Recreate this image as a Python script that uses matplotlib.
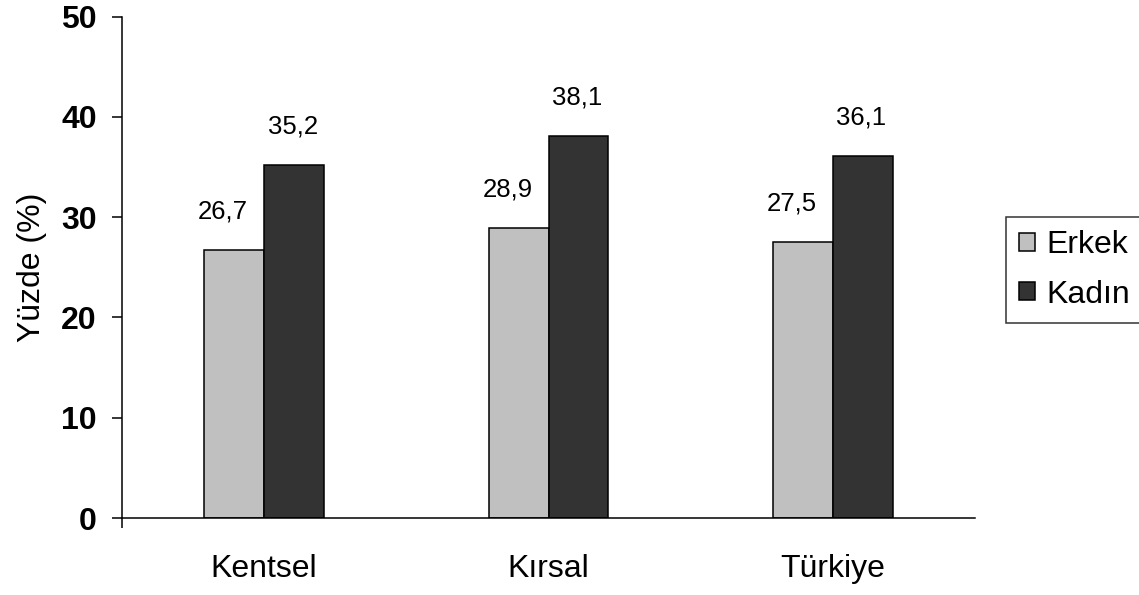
import matplotlib as mpl
import matplotlib.pyplot as plt
import numpy as np

mpl.rcParams["font.family"] = ["Liberation Sans", "DejaVu Sans"]

# data
categories = ["Kentsel", "Kırsal", "Türkiye"]
series_names = ["Erkek", "Kadın"]
erkek = [26.7, 28.9, 27.5]
kadin = [35.2, 38.1, 36.1]
y_ticks = [0, 10, 20, 30, 40, 50]

colors = ["#C0C0C0", "#333333"]

W, H = 1139, 595
fig = plt.figure(figsize=(W / 100, H / 100), dpi=100)
ax = fig.add_axes([122 / W, (H - 518) / H, (975 - 122) / W, (518 - 16.5) / H])

x = np.arange(len(categories)) + 0.5
bw = 0.211

bars_e = ax.bar(x - bw / 2, erkek, bw, color=colors[0], edgecolor="black",
                linewidth=1.1, label=series_names[0], zorder=2)
bars_k = ax.bar(x + bw / 2, kadin, bw, color=colors[1], edgecolor="black",
                linewidth=1.1, label=series_names[1], zorder=2)

# value labels, comma decimal like the original
for bars, dx in [(bars_e, -8), (bars_k, -1)]:
    for b in bars:
        v = b.get_height()
        ax.annotate(f"{v:.1f}".replace(".", ","),
                    (b.get_x() + b.get_width() / 2, v),
                    xytext=(dx, 19), textcoords="offset points",
                    ha="center", va="bottom", fontsize=18.5)

ax.set_xlim(0, len(categories))
ax.set_ylim(0, 50)

ax.set_yticks(y_ticks)
ax.set_yticklabels([str(t) for t in y_ticks], fontsize=23, fontweight="bold")
ax.tick_params(axis="y", direction="out", length=7, width=1.1, pad=11)

# one tick at the left boundary, labels in the middle of each group
ax.set_xticks([0])
ax.set_xticklabels([""])
ax.tick_params(axis="x", which="major", direction="out", length=7, width=1.1)
ax.set_xticks(x, minor=True)
ax.set_xticklabels(categories, minor=True, fontsize=23)
ax.tick_params(axis="x", which="minor", length=0, pad=26)

ax.set_ylabel("Yüzde (%)", fontsize=23, labelpad=10)

for spine in ["top", "right"]:
    ax.spines[spine].set_visible(False)
for spine in ["left", "bottom"]:
    ax.spines[spine].set_linewidth(1.1)

leg = ax.legend(loc="upper left", bbox_to_anchor=(1006 / W, (H - 217) / H),
                bbox_transform=fig.transFigure, fontsize=23, frameon=True,
                fancybox=False, handlelength=0.5, handleheight=0.5,
                handletextpad=0.35, borderpad=0.42, labelspacing=0.6,
                borderaxespad=0)
leg.get_frame().set_edgecolor("black")
leg.get_frame().set_linewidth(1.1)

fig.savefig("out.png", dpi=100)
